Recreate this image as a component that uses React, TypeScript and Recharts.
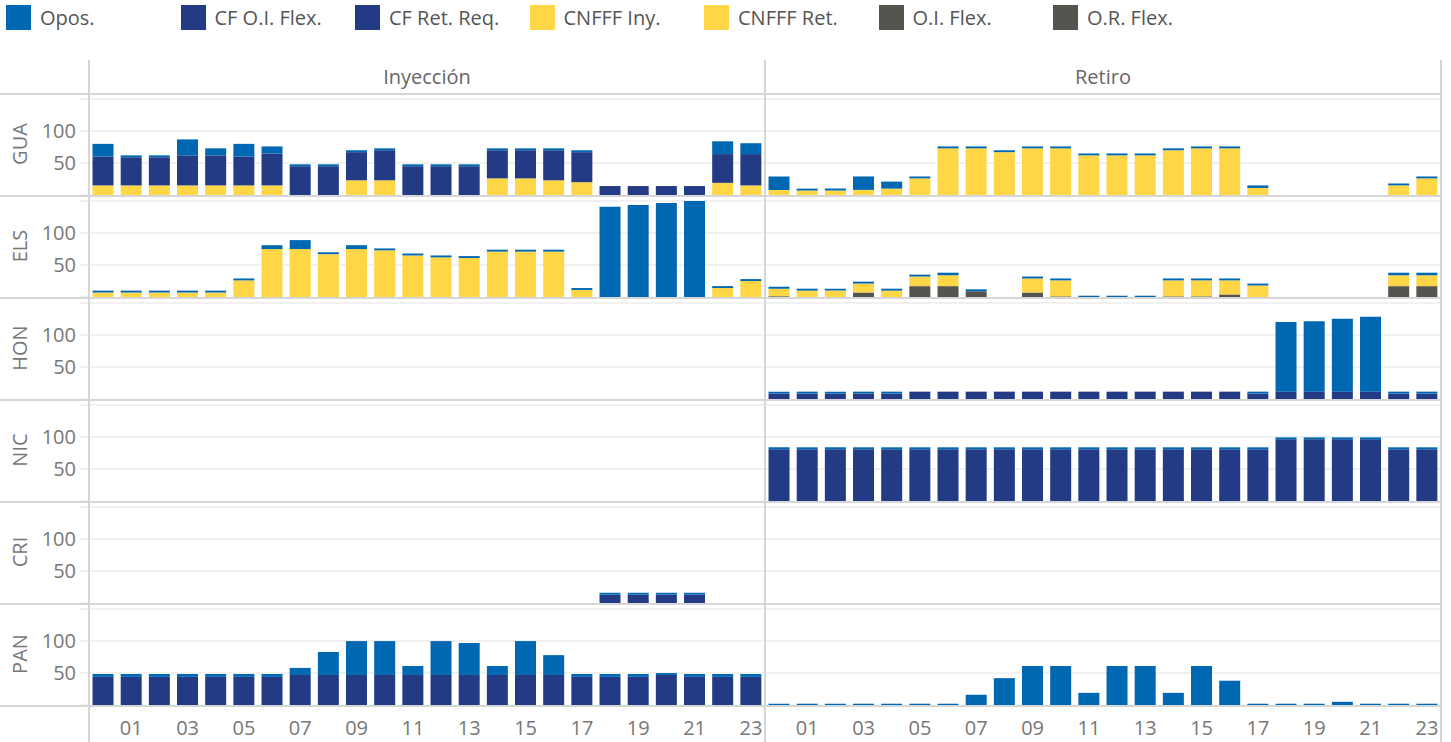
import React from 'react';
import { BarChart, Bar, XAxis, YAxis, CartesianGrid } from 'recharts';

const HOURS = ['00', '01', '02', '03', '04', '05', '06', '07', '08', '09', '10', '11', '12', '13', '14', '15', '16', '17', '18', '19', '20', '21', '22', '23'];
const ODD_HOURS = ['01', '03', '05', '07', '09', '11', '13', '15', '17', '19', '21', '23'];
const ROWS = ['GUA', 'ELS', 'HON', 'NIC', 'CRI', 'PAN'];
const COLUMNS = ['Inyección', 'Retiro'];

const NONE = HOURS.map(() => 0);

// GUA
const guaInyCnfff = [15, 15, 15, 15, 15, 15, 15, 0, 0, 23, 23, 0, 0, 0, 26, 26, 23, 20, 0, 0, 0, 0, 19, 15];
const guaInyCf = [45, 44, 44, 47, 47, 45, 50, 45, 45, 44, 47, 45, 45, 45, 44, 44, 47, 47, 14, 14, 14, 14, 45, 49];
const guaInyOpos = [20, 3, 3, 25, 11, 20, 11, 3, 3, 3, 3, 3, 3, 3, 3, 3, 3, 3, 0, 0, 0, 0, 20, 17];
const guaRetCnfff = [8, 7, 7, 8, 10, 26, 73, 73, 67, 73, 73, 62, 62, 62, 70, 73, 73, 11, 0, 0, 0, 0, 15, 26];
const guaRetOpos = [21, 3, 3, 21, 11, 3, 3, 3, 3, 3, 3, 3, 3, 3, 3, 3, 3, 4, 0, 0, 0, 0, 3, 3];

// ELS
const elsInyCnfff = [7, 7, 7, 7, 7, 26, 75, 75, 67, 75, 73, 65, 62, 61, 71, 71, 71, 11, 0, 0, 0, 0, 14, 25];
const elsInyOpos = [3, 3, 3, 3, 3, 3, 6, 14, 3, 6, 3, 3, 3, 3, 3, 3, 3, 3, 141, 144, 147, 150, 3, 3];
const elsRetFlex = [1, 0, 0, 7, 0, 17, 17, 9, 0, 7, 1, 0, 0, 0, 1, 1, 4, 0, 0, 0, 0, 0, 17, 17];
const elsRetCnfff = [12, 10, 10, 14, 10, 15, 17, 0, 0, 22, 25, 0, 0, 0, 25, 25, 22, 18, 0, 0, 0, 0, 17, 17];
const elsRetOpos = [3, 3, 3, 3, 3, 3, 4, 3, 0, 3, 3, 2, 2, 2, 3, 3, 3, 3, 0, 0, 0, 0, 4, 4];

// HON
const honRetCf = [8.5, 8.5, 8.5, 8.5, 8.5, 11.5, 11.5, 11.5, 11.5, 11.5, 11.5, 11.5, 11.5, 11.5, 11.5, 11.5, 11.5, 8.5, 11.5, 11.5, 11.5, 11.5, 8.5, 8.5];
const honRetOpos = [3, 3, 3, 3, 3, 0, 0, 0, 0, 0, 0, 0, 0, 0, 0, 0, 0, 3, 109, 110, 114, 117, 3, 3];

// NIC
const nicRetCf = [81, 81, 81, 81, 81, 81, 81, 81, 81, 81, 81, 81, 81, 81, 81, 81, 81, 81, 96.5, 96.5, 96.5, 96.5, 81, 81];
const nicRetOpos = [3, 3, 3, 3, 3, 3, 3, 3, 3, 3, 3, 3, 3, 3, 3, 3, 3, 3, 3, 3, 3, 3, 3, 3];

// CRI
const criInyCf = [0, 0, 0, 0, 0, 0, 0, 0, 0, 0, 0, 0, 0, 0, 0, 0, 0, 0, 13, 13, 13, 13, 0, 0];
const criInyOpos = [0, 0, 0, 0, 0, 0, 0, 0, 0, 0, 0, 0, 0, 0, 0, 0, 0, 0, 3, 3, 3, 3, 0, 0];

// PAN
const panInyCf = [44, 44, 44, 44, 44, 44, 44, 47, 47, 47, 47, 47, 47, 47, 47, 47, 47, 44, 44, 44, 47, 44, 44, 44];
const panInyOpos = [4.5, 4.5, 4.5, 4.5, 4.5, 4.5, 4.5, 11, 36, 53, 53, 14, 53, 50, 14, 53, 31, 4.5, 4.5, 4.5, 3, 4.5, 4.5, 4.5];
const panRetOpos = [2, 2, 2, 2, 2, 2, 2, 16, 42, 61, 61, 19, 61, 61, 19, 61, 38, 2, 2, 2, 5, 2, 2, 2];

const LEGEND = [
  { label: 'Opos.', color: '#0068b3' },
  { label: 'CF O.I. Flex.', color: '#233a85' },
  { label: 'CF Ret. Req.', color: '#233a85' },
  { label: 'CNFFF Iny.', color: '#ffd645' },
  { label: 'CNFFF Ret.', color: '#ffd645' },
  { label: 'O.I. Flex.', color: '#55544e' },
  { label: 'O.R. Flex.', color: '#55544e' },
];

type Panel = { flex: number[]; cnfff: number[]; cf: number[]; opos: number[] };

const PANELS: Panel[][] = [
  [
    { flex: NONE, cnfff: guaInyCnfff, cf: guaInyCf, opos: guaInyOpos },
    { flex: NONE, cnfff: guaRetCnfff, cf: NONE, opos: guaRetOpos },
  ],
  [
    { flex: NONE, cnfff: elsInyCnfff, cf: NONE, opos: elsInyOpos },
    { flex: elsRetFlex, cnfff: elsRetCnfff, cf: NONE, opos: elsRetOpos },
  ],
  [
    { flex: NONE, cnfff: NONE, cf: NONE, opos: NONE },
    { flex: NONE, cnfff: NONE, cf: honRetCf, opos: honRetOpos },
  ],
  [
    { flex: NONE, cnfff: NONE, cf: NONE, opos: NONE },
    { flex: NONE, cnfff: NONE, cf: nicRetCf, opos: nicRetOpos },
  ],
  [
    { flex: NONE, cnfff: NONE, cf: criInyCf, opos: criInyOpos },
    { flex: NONE, cnfff: NONE, cf: NONE, opos: NONE },
  ],
  [
    { flex: NONE, cnfff: NONE, cf: panInyCf, opos: panInyOpos },
    { flex: NONE, cnfff: NONE, cf: NONE, opos: panRetOpos },
  ],
];

const FONT = '"Open Sans", sans-serif';
const ROW_TOP = 94;
const ROW_H = 102;
const PLOT_H = 101;
const LINE = '#d6d6d6';

function PanelChart({ panel, row, col }: { panel: Panel; row: number; col: number }) {
  const data = HOURS.map((h, i) => ({
    hour: h,
    flex: panel.flex[i],
    cnfff: panel.cnfff[i],
    cf: panel.cf[i],
    opos: panel.opos[i],
  }));
  const isLeft = col === 0;
  const isBottom = row === ROWS.length - 1;
  return (
    <div style={{ position: 'absolute', left: isLeft ? 0 : 765, top: ROW_TOP + row * ROW_H }}>
      <BarChart
        width={isLeft ? 765 : 676}
        height={isBottom ? PLOT_H + 37 : PLOT_H}
        data={data}
        margin={{ top: 0, right: 0, bottom: 0, left: 0 }}
        barCategoryGap="12.5%"
      >
        <CartesianGrid vertical={false} stroke="#ededed" strokeWidth={1.5} horizontalValues={[50, 100, 150]} />
        <XAxis
          dataKey="hour"
          hide={!isBottom}
          ticks={ODD_HOURS}
          interval={0}
          height={37}
          axisLine={false}
          tickLine={false}
          tickMargin={10}
          tick={{ fill: '#777', fontSize: 20, fontFamily: FONT }}
        />
        <YAxis
          type="number"
          domain={[0, 158]}
          ticks={[0, 50, 100, 150]}
          hide={!isLeft}
          width={89}
          axisLine={false}
          tickSize={9}
          tickMargin={4}
          tickLine={{ stroke: '#ededed', strokeWidth: 1.5 }}
          tickFormatter={(v: number) => (v === 50 || v === 100 ? String(v) : '')}
          tick={{ fill: '#777', fontSize: 20, fontFamily: FONT }}
        />
        <Bar dataKey="flex" stackId="s" fill="#55544e" isAnimationActive={false} />
        <Bar dataKey="cnfff" stackId="s" fill="#ffd645" isAnimationActive={false} />
        <Bar dataKey="cf" stackId="s" fill="#233a85" isAnimationActive={false} />
        <Bar dataKey="opos" stackId="s" fill="#0068b3" isAnimationActive={false} />
      </BarChart>
    </div>
  );
}

export default function App() {
  return (
    <div
      style={{
        position: 'absolute',
        left: 0,
        top: 0,
        width: 1451,
        height: 742,
        background: '#fff',
        fontFamily: FONT,
        overflow: 'hidden',
      }}
    >
      {LEGEND.map((item, i) => (
        <div
          key={item.label}
          style={{ position: 'absolute', left: 6 + i * 174.5, top: 5, display: 'flex', alignItems: 'center', height: 25 }}
        >
          <div style={{ width: 25, height: 25, background: item.color }} />
          <span style={{ marginLeft: 9, fontSize: 20, color: '#555', whiteSpace: 'nowrap' }}>{item.label}</span>
        </div>
      ))}

      {COLUMNS.map((c, i) => (
        <div
          key={c}
          style={{
            position: 'absolute',
            left: 89 + i * 676,
            width: 676,
            top: 63,
            textAlign: 'center',
            fontSize: 20,
            color: '#666',
            lineHeight: '28px',
          }}
        >
          {c}
        </div>
      ))}

      {ROWS.map((r, i) => (
        <div
          key={r}
          style={{
            position: 'absolute',
            left: 20 - 40,
            top: ROW_TOP + i * ROW_H + 50 - 14,
            width: 80,
            height: 28,
            lineHeight: '28px',
            textAlign: 'center',
            fontSize: 20,
            color: '#777',
            transform: 'rotate(-90deg)',
          }}
        >
          {r}
        </div>
      ))}

      {PANELS.map((cols, r) =>
        cols.map((p, c) => <PanelChart key={`${r}-${c}`} panel={p} row={r} col={c} />)
      )}

      {/* frame lines */}
      <div style={{ position: 'absolute', left: 0, top: 93, width: 1441, height: 2, background: LINE }} />
      {ROWS.map((r, i) => (
        <div
          key={`h-${r}`}
          style={{ position: 'absolute', left: 0, top: ROW_TOP + i * ROW_H + PLOT_H, width: 1441, height: 2, background: LINE }}
        />
      ))}
      {[88, 764, 1440].map((x) => (
        <div key={`v-${x}`} style={{ position: 'absolute', left: x, top: 60, width: 2, height: 682, background: LINE }} />
      ))}
    </div>
  );
}
